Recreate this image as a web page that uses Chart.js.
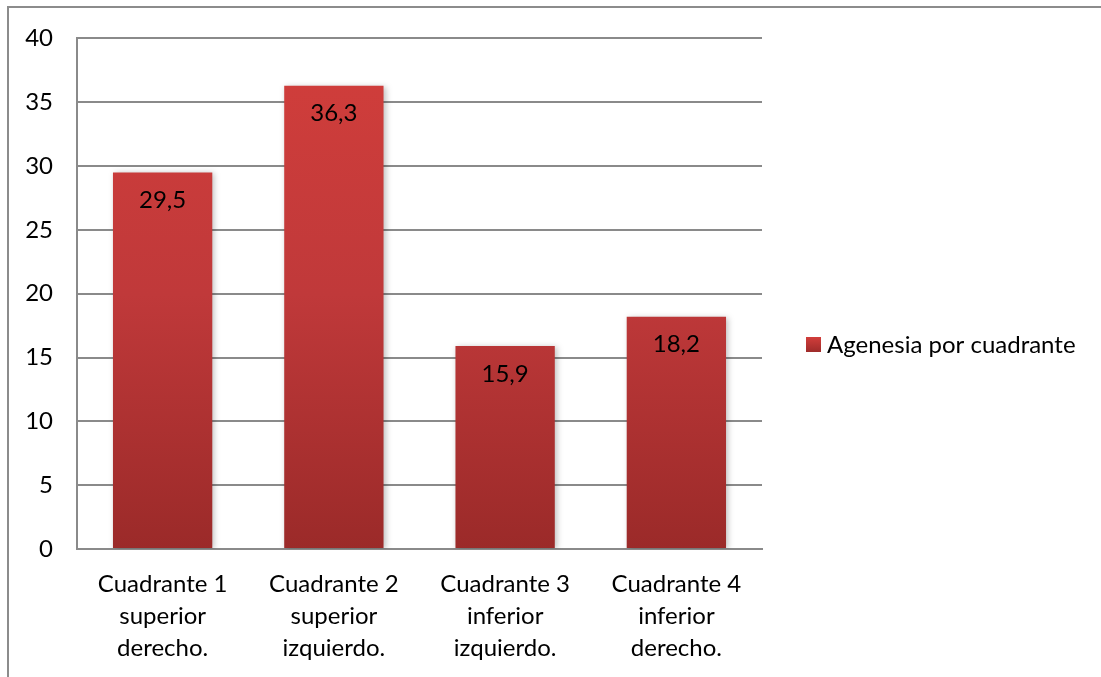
<!DOCTYPE html>
<html>
<head>
<meta charset="utf-8">
<script src="https://cdn.jsdelivr.net/npm/chart.js@4/dist/chart.umd.min.js"></script>
<style>
  html, body { margin: 0; padding: 0; background: #fff; }
  #wrap { position: relative; width: 1101px; height: 677px; }
</style>
</head>
<body>
<div id="wrap"><canvas id="chart" width="1101" height="677"></canvas></div>
<script>
const categories = [
  ["Cuadrante 1", "superior", "derecho."],
  ["Cuadrante 2", "superior", "izquierdo."],
  ["Cuadrante 3", "inferior", "izquierdo."],
  ["Cuadrante 4", "inferior", "derecho."],
];
const seriesName = "Agenesia por cuadrante";
const values = [29.5, 36.3, 15.9, 18.2];
const yTicks = { min: 0, max: 40, step: 5 };

const FONT = "Lato, 'Open Sans', sans-serif";
const FSIZE = 24;
const GRID = "#8a8a8a";

function barGradient(ctx) {
  const area = ctx.chart.chartArea;
  if (!area) return "#c0393a";
  const g = ctx.chart.ctx.createLinearGradient(0, area.top, 0, area.bottom);
  g.addColorStop(0, "#d23e3b");
  g.addColorStop(0.5, "#c0393a");
  g.addColorStop(1, "#9b2a29");
  return g;
}

// frame + value labels + legend
const decor = {
  id: "decor",
  beforeDraw(chart) {
    const c = chart.ctx;
    c.save();
    c.strokeStyle = "#8c8c8c";
    c.lineWidth = 2;
    c.beginPath();
    c.moveTo(8, 677);
    c.lineTo(8, 7);
    c.lineTo(1101, 7);
    c.stroke();
    c.restore();
  },
  beforeDatasetsDraw(chart) {
    const c = chart.ctx;
    c.save();
    c.shadowColor = "rgba(0,0,0,0.25)";
    c.shadowBlur = 6;
    c.shadowOffsetX = 2;
    c.shadowOffsetY = 1;
  },
  afterDatasetsDraw(chart) {
    const c = chart.ctx;
    c.restore();
    c.save();
    c.font = FSIZE + "px " + FONT;
    c.fillStyle = "#000";
    c.textAlign = "center";
    c.textBaseline = "middle";
    chart.getDatasetMeta(0).data.forEach((bar, i) => {
      c.fillText(String(values[i]).replace(".", ","), bar.x, bar.y + 28);
    });
    // legend
    const ly = 345;
    const g = c.createLinearGradient(0, ly - 8, 0, ly + 8);
    g.addColorStop(0, "#d23e3b");
    g.addColorStop(1, "#9b2a29");
    c.fillStyle = g;
    c.fillRect(806, ly - 8, 15, 15);
    c.fillStyle = "#000";
    c.textAlign = "left";
    c.fillText(seriesName, 827, ly);
    c.restore();
  },
};

new Chart(document.getElementById("chart"), {
  type: "bar",
  data: {
    labels: categories,
    datasets: [{
      label: seriesName,
      data: values,
      backgroundColor: barGradient,
      borderWidth: 0,
      categoryPercentage: 1,
      barPercentage: 0.58,
    }],
  },
  options: {
    responsive: false,
    animation: false,
    layout: { padding: { left: 17, top: 37, right: 339, bottom: 0 } },
    plugins: {
      legend: { display: false },
      tooltip: { enabled: false },
    },
    scales: {
      x: {
        grid: { display: false },
        border: { display: true, color: GRID, width: 2 },
        ticks: {
          color: "#000",
          padding: 11,
          maxRotation: 0,
          font: { family: FONT, size: FSIZE, lineHeight: 32 / FSIZE },
        },
        afterFit: (s) => { s.height = 128; },
      },
      y: {
        min: yTicks.min,
        max: yTicks.max,
        grid: { color: GRID, lineWidth: 2, drawTicks: false },
        border: { display: true, color: GRID, width: 2 },
        ticks: {
          stepSize: yTicks.step,
          color: "#000",
          padding: 24,
          font: { family: FONT, size: FSIZE },
        },
        afterFit: (s) => { s.width = 60; },
      },
    },
  },
  plugins: [decor],
});
</script>
</body>
</html>
